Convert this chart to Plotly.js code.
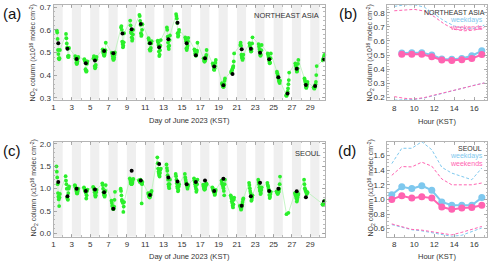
<!DOCTYPE html>
<html>
<head>
<meta charset="utf-8">
<script src="https://cdn.plot.ly/plotly-3.0.1.min.js"></script>
<style>html,body{margin:0;padding:0;background:#fff;}#chart{width:500px;height:265px;}</style>
</head>
<body>
<div id="chart"></div>
<script>
// ---------------- DATA ----------------
const days = [1,2,3,4,5,6,7,8,9,10,11,12,13,14,15,16,17,18,19,20,21,22,23,24,25,26,27,28,29,30];
const neHours = [8.75,9.75,10.75,11.75,12.75,13.75,14.75,15.75,16.75];
const seoulHours = [7.75,8.75,9.75,10.75,11.75,12.75,13.75,14.75,15.75,16.75];
const dailyMarkHour = 12.5;

// Panel (a): Northeast Asia hourly NO2 column, one row per day
const neHourly = [
  [0.597,0.588,0.56,0.511,0.493,0.474,0.47,0.475,0.511],
  [0.582,0.563,0.54,0.523,0.518,0.484,0.479,0.485,0.52],
  [0.484,0.474,0.47,0.455,0.449,0.452,0.46,0.474,0.48],
  [0.47,0.465,0.46,0.426,0.42,0.415,0.418,0.45,0.46],
  [0.474,0.484,0.47,0.44,0.43,0.435,0.445,0.47,0.48],
  [0.514,0.503,0.495,0.489,0.485,0.49,0.5,0.51,0.543],
  [0.499,0.495,0.484,0.474,0.467,0.47,0.478,0.49,0.5],
  [0.611,0.617,0.6,0.548,0.537,0.523,0.53,0.545,0.585],
  [0.641,0.62,0.592,0.585,0.567,0.552,0.56,0.58,0.6],
  [0.666,0.661,0.64,0.622,0.585,0.573,0.578,0.6,0.625],
  [0.563,0.555,0.541,0.514,0.508,0.51,0.52,0.54,0.55],
  [0.552,0.545,0.533,0.504,0.484,0.49,0.51,0.53,0.555],
  [0.611,0.6,0.57,0.544,0.526,0.515,0.53,0.555,0.575],
  [0.67,0.661,0.65,0.63,0.585,0.57,0.575,0.59,0.6],
  [0.567,0.56,0.55,0.518,0.511,0.52,0.53,0.55,0.565],
  [0.514,0.508,0.496,0.49,0.485,0.49,0.5,0.508,0.543],
  [0.474,0.467,0.46,0.46,0.465,0.47,0.48,0.489,0.511],
  [0.452,0.445,0.44,0.425,0.423,0.43,0.44,0.455,0.467],
  [0.364,0.358,0.352,0.349,0.347,0.35,0.36,0.375,0.385],
  [0.415,0.41,0.42,0.423,0.43,0.435,0.44,0.46,0.496],
  [0.533,0.543,0.53,0.49,0.48,0.474,0.467,0.475,0.49],
  [0.541,0.533,0.525,0.511,0.504,0.505,0.515,0.54,0.567],
  [0.537,0.526,0.515,0.505,0.489,0.485,0.49,0.51,0.533],
  [0.496,0.489,0.48,0.47,0.46,0.452,0.455,0.475,0.496],
  [0.415,0.408,0.4,0.39,0.385,0.375,0.37,0.365,0.375],
  [0.31,0.308,0.312,0.32,0.327,0.341,0.36,0.378,0.411],
  [0.452,0.445,0.437,0.425,0.415,0.418,0.43,0.45,0.467],
  [0.385,0.378,0.37,0.36,0.346,0.343,0.349,0.36,0.37],
  [0.346,0.342,0.34,0.345,0.35,0.36,0.37,0.4,0.44],
  [0.465,0.47,0.475,0.481,0.489,0.49,0.496,0.51,0.526]
];
const neDaily = [0.541,0.516,0.471,0.452,0.464,0.507,0.497,0.584,0.603,0.626,0.541,0.523,0.558,0.632,0.541,
                 0.488,0.474,0.438,0.355,0.405,0.514,0.516,0.499,0.47,0.39,0.318,0.428,0.356,0.352,0.47];

// Panel (c): Seoul hourly NO2 column, one row per day (null = no retrieval)
const seoulHourly = [
  [1.5,1.38,1.25,1.1,0.9,0.82,0.76,0.61,0.8,0.88],
  [1.28,1.18,1.1,1.0,0.8,0.77,0.75,0.9,1.0,1.05],
  [1.08,1.06,1.03,0.99,0.95,0.9,0.89,0.9,0.95,1.0],
  [1.03,1.0,0.97,0.95,0.93,0.9,0.78,0.85,0.95,0.98],
  [1.04,1.02,1.0,0.97,0.92,0.86,0.82,0.85,0.92,0.97],
  [1.12,1.08,1.0,0.92,0.88,0.85,0.82,0.86,0.95,1.08],
  [0.73,0.68,0.62,0.6,0.55,0.54,0.56,0.6,0.75,0.93],
  [1.0,0.95,0.85,0.75,0.72,0.7,0.68,0.48,0.6,0.7],
  [1.23,1.2,1.15,1.12,1.1,1.1,1.12,1.15,1.2,1.22],
  [1.19,1.18,1.15,1.17,1.2,1.16,1.12,0.67,1.1,1.15],
  [0.9,0.87,0.83,0.82,0.8,0.82,0.85,0.88,0.93,0.95],
  [1.7,1.57,1.45,1.38,1.34,1.3,1.27,1.35,1.42,1.45],
  [1.54,1.46,1.4,1.3,1.2,1.1,1.05,1.01,1.1,1.2],
  [1.33,1.28,1.2,1.12,1.05,1.01,0.94,0.97,1.05,1.1],
  [1.33,1.25,1.2,1.15,1.12,1.08,1.04,1.0,1.05,1.08],
  [1.23,1.18,1.15,1.1,1.05,1.0,0.93,0.97,1.1,1.2],
  [1.09,1.05,1.01,0.98,0.98,1.0,1.05,1.09,1.12,1.1],
  [1.03,1.0,0.97,0.95,0.93,0.9,0.86,0.88,0.93,0.97],
  [1.18,1.13,1.1,1.09,1.05,1.01,0.95,0.85,1.1,1.2],
  [0.85,0.82,0.78,0.72,0.68,0.62,0.58,0.65,0.75,0.8],
  [0.62,0.6,0.57,0.53,0.55,0.6,0.65,0.7,0.75,0.78],
  [1.13,1.08,1.01,0.95,0.9,0.82,0.73,0.75,0.8,0.85],
  [1.2,1.15,1.1,1.03,0.97,0.94,0.88,0.9,0.97,1.03],
  [1.13,1.08,1.05,1.0,0.95,0.86,0.79,0.82,0.88,0.93],
  [0.94,0.92,0.9,0.88,0.9,0.92,0.95,1.0,1.1,1.27],
  [null,null,0.43,null,null,null,null,0.46,null,null],
  [0.9,0.88,0.85,0.82,0.78,0.71,0.75,0.8,0.85,0.88],
  [1.2,1.1,1.01,0.98,0.95,0.94,0.9,0.88,0.9,0.92],
  [null,null,null,null,null,null,null,null,null,null],
  [0.65,0.64,0.65,0.67,0.7,0.72,0.75,0.8,0.84,0.87]
];
const seoulDaily = [1.15,0.83,1.0,0.95,0.98,0.92,0.55,null,1.4,1.18,0.86,1.55,1.25,1.16,1.1,
                    1.15,1.18,0.95,1.22,null,0.62,0.83,1.13,0.95,1.0,null,0.94,0.81,null,0.72];

// Panel (b): Northeast Asia diurnal means and spread
const neWeekdayMean = [0.515,0.517,0.517,0.5,0.472,0.47,0.476,0.495,0.53];
const neWeekendMean = [0.505,0.505,0.505,0.488,0.465,0.462,0.467,0.476,0.503];
const spreadHours = [8,9,10,11,12,13,14,15,16,17];
const neWeekdayHigh = [0.845,0.856,0.857,0.84,0.79,0.742,0.706,0.69,0.69,0.712];
const neWeekdayLow  = [0.18,0.182,0.185,0.195,0.214,0.232,0.251,0.27,0.286,0.302];
const neWeekendHigh = [0.814,0.819,0.824,0.812,0.772,0.72,0.682,0.672,0.677,0.696];
const neWeekendLow  = [0.205,0.193,0.188,0.198,0.216,0.233,0.252,0.271,0.287,0.302];

// Panel (d): Seoul diurnal means and spread
const seoulWeekdayMean = [1.065,1.172,1.148,1.188,1.125,0.965,0.92,0.92,0.92,1.025];
const seoulWeekendMean = [1.0,1.05,1.018,1.038,1.018,0.895,0.864,0.884,0.889,0.921];
const seoulWeekdayHigh = [1.49,1.70,1.70,1.79,1.68,1.44,1.36,1.32,1.27,1.43];
const seoulWeekdayLow  = [0.655,0.62,0.585,0.57,0.545,0.51,0.495,0.51,0.555,0.61];
const seoulWeekendHigh = [1.33,1.45,1.445,1.51,1.455,1.28,1.20,1.20,1.20,1.225];
const seoulWeekendLow  = [0.665,0.63,0.59,0.58,0.56,0.53,0.515,0.55,0.585,0.63];

// ---------------- STYLE ----------------
const W = 500, H = 265;
const FONT = 'Liberation Sans, Arial, Helvetica, sans-serif';
const BLUE = '#7ec8ee', PINK = '#ff63b1';
const GREEN = '#2bef2b', GREEN_LINE = '#b9f3b9';
const px = v => v / W, py = v => 1 - v / H;

function flatten(hourly, hours) {
  const x = [], y = [];
  hourly.forEach((row, i) => row.forEach((v, j) => { x.push(days[i] + hours[j] / 24); y.push(v); }));
  return {x, y};
}
const neFlat = flatten(neHourly, neHours);
const seFlat = flatten(seoulHourly, seoulHours);
const dailyX = days.map(d => d + dailyMarkHour / 24);

const traces = [
  {x: neFlat.x, y: neFlat.y, xaxis:'x', yaxis:'y', mode:'lines+markers', cliponaxis:false,
   line:{color:GREEN_LINE, width:0.8}, marker:{color:GREEN, size:3.8}},
  {x: dailyX, y: neDaily, xaxis:'x', yaxis:'y', mode:'markers', marker:{color:'#000', size:4}},
  {x: seFlat.x, y: seFlat.y, xaxis:'x3', yaxis:'y3', mode:'lines+markers', connectgaps:true, cliponaxis:false,
   line:{color:GREEN_LINE, width:0.8}, marker:{color:GREEN, size:3.8}},
  {x: dailyX, y: seoulDaily, xaxis:'x3', yaxis:'y3', mode:'markers', marker:{color:'#000', size:4}}
];
function diurnal(xa, ya, hrs, spreadX, wdMean, weMean, wdHi, wdLo, weHi, weLo) {
  const dash = {width:1, dash:'3px,2px'};
  return [
    {x: spreadX, y: wdHi, xaxis:xa, yaxis:ya, mode:'lines', line:Object.assign({color:BLUE}, dash)},
    {x: spreadX, y: wdLo, xaxis:xa, yaxis:ya, mode:'lines', line:Object.assign({color:BLUE}, dash)},
    {x: spreadX, y: weHi, xaxis:xa, yaxis:ya, mode:'lines', line:Object.assign({color:PINK}, dash)},
    {x: spreadX, y: weLo, xaxis:xa, yaxis:ya, mode:'lines', line:Object.assign({color:PINK}, dash)},
    {x: hrs, y: wdMean, xaxis:xa, yaxis:ya, mode:'lines+markers', line:{color:BLUE, width:2}, marker:{color:BLUE, size:7}},
    {x: hrs, y: weMean, xaxis:xa, yaxis:ya, mode:'lines+markers', line:{color:PINK, width:2}, marker:{color:PINK, size:7}}
  ];
}
traces.push(...diurnal('x2','y2', neHours, spreadHours, neWeekdayMean, neWeekendMean, neWeekdayHigh, neWeekdayLow, neWeekendHigh, neWeekendLow));
traces.push(...diurnal('x4','y4', seoulHours, seoulHours, seoulWeekdayMean, seoulWeekendMean, seoulWeekdayHigh, seoulWeekdayLow, seoulWeekendHigh, seoulWeekendLow));

const axBase = {showline:true, mirror:'ticks', linecolor:'#b4b4b4', linewidth:1, showgrid:false, zeroline:false,
  ticks:'inside', ticklen:3, tickcolor:'#999', tickwidth:0.8, tickfont:{family:FONT, size:8, color:'#333'}};
const ax = o => Object.assign({}, axBase, o);

const dayTicks = days.filter(d => d % 2 === 1 && d < 30);
const xDay = {range:[1, 30.55], domain:[px(53.5), px(324.5)], tickvals: dayTicks,
  minor:{dtick:1, tick0:1, ticks:'inside', ticklen:1.5, tickcolor:'#aaa'}};
const xHour = {range:[7.3, 17.3], domain:[px(387.3), px(487.3)], tickvals:[8,10,12,14,16],
  minor:{dtick:1, tick0:8, ticks:'inside', ticklen:1.5, tickcolor:'#aaa'}};

const shapes = [];
['x','x3'].forEach(xr => {
  const yr = xr === 'x' ? 'y domain' : 'y3 domain';
  dayTicks.forEach(d => shapes.push({type:'rect', xref:xr, yref:yr, x0:d, x1:d+1, y0:0, y1:1,
    fillcolor:'#efefef', line:{width:0}, layer:'below'}));
});

const ann = [];
const txt = (text, x, y, opts) => ann.push(Object.assign({text, xref:'paper', yref:'paper', x:px(x), y:py(y),
  showarrow:false, xanchor:'center', yanchor:'middle', borderpad:0, font:{family:FONT, size:7.5, color:'#333'}}, opts || {}));
const yTitle = 'NO<sub>2</sub> column (x10<sup>16</sup> molec cm<sup>-2</sup>)';
[['(a)',2,14],['(b)',338,14],['(c)',2,150],['(d)',337,150.5]].forEach(p =>
  txt(p[0], p[1], p[2], {xanchor:'left', font:{family:FONT, size:15, color:'#111'}}));
txt(yTitle, 33.5, 53, {textangle:-90, font:{family:FONT, size:7, color:'#333'}});
txt(yTitle, 33.5, 188, {textangle:-90, font:{family:FONT, size:7, color:'#333'}});
txt(yTitle, 370.5, 53, {textangle:-90, font:{family:FONT, size:7, color:'#333'}});
txt(yTitle, 370.5, 188, {textangle:-90, font:{family:FONT, size:7, color:'#333'}});
txt('Day of June 2023 (KST)', 189, 120.5);
txt('Day of June 2023 (KST)', 189, 256);
txt('Hour (KST)', 437.3, 121.7);
txt('Hour (KST)', 437.3, 256.7);
txt('NORTHEAST ASIA', 320, 16, {xanchor:'right'});
txt('SEOUL', 320.5, 153.3, {xanchor:'right'});
const small = c => ({xanchor:'right', font:{family:FONT, size:7, color:c}});
txt('NORTHEAST ASIA', 486, 12.5, small('#333'));
txt('weekdays', 484, 20, small(BLUE));
txt('weekends', 484, 27.3, small(PINK));
txt('SEOUL', 482.5, 148.2, small('#333'));
txt('weekdays', 483.5, 155.7, small(BLUE));
txt('weekends', 483.5, 163, small(PINK));

const layout = {
  width:W, height:H, margin:{l:0, r:0, t:0, b:0}, showlegend:false,
  paper_bgcolor:'#fff', plot_bgcolor:'rgba(0,0,0,0)', font:{family:FONT},
  xaxis: ax(Object.assign({anchor:'y'}, xDay)),
  yaxis: ax({anchor:'x', domain:[py(99.5), py(5)], range:[0.292, 0.71], tickvals:[0.3,0.4,0.5,0.6,0.7], tickformat:'.1f',
    minor:{dtick:0.02, tick0:0.3, ticks:'inside', ticklen:1.5, tickcolor:'#aaa'}}),
  xaxis2: ax(Object.assign({anchor:'y2'}, xHour)),
  yaxis2: ax({anchor:'x2', domain:[py(100), py(5)], range:[0.181, 0.855], tickvals:[0.2,0.3,0.4,0.5,0.6,0.7,0.8], tickformat:'.1f',
    minor:{dtick:0.02, tick0:0.2, ticks:'inside', ticklen:1.5, tickcolor:'#aaa'}}),
  xaxis3: ax(Object.assign({anchor:'y3'}, xDay)),
  yaxis3: ax({anchor:'x3', domain:[py(236.5), py(141.7)], range:[-0.07, 2.05], tickvals:[0,0.5,1,1.5,2], tickformat:'.1f',
    minor:{dtick:0.1, tick0:0, ticks:'inside', ticklen:1.5, tickcolor:'#aaa'}}),
  xaxis4: ax(Object.assign({anchor:'y4'}, xHour)),
  yaxis4: ax({anchor:'x4', domain:[py(236.7), py(141.7)], range:[0.49, 1.79], tickvals:[0.6,0.8,1.0,1.2,1.4,1.6], tickformat:'.1f',
    minor:{dtick:0.05, tick0:0.6, ticks:'inside', ticklen:1.5, tickcolor:'#aaa'}}),
  shapes, annotations: ann
};
Plotly.newPlot('chart', traces, layout, {staticPlot:true, displayModeBar:false});
</script>
</body>
</html>
